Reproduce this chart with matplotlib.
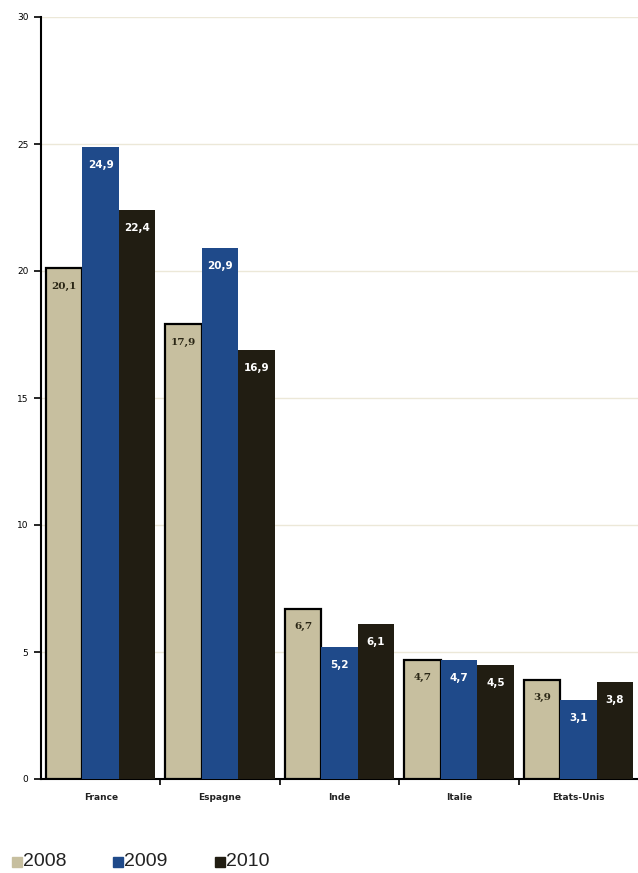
import numpy as np
import matplotlib.pyplot as plt
from matplotlib.patches import Rectangle

# Données : parts par pays et par année
pays = ["France", "Espagne", "Inde", "Italie", "Etats-Unis"]
annees = ["2008", "2009", "2010"]
v2008 = [20.1, 17.9, 6.7, 4.7, 3.9]
v2009 = [24.9, 20.9, 5.2, 4.7, 3.1]
v2010 = [22.4, 16.9, 6.1, 4.5, 3.8]

couleurs = ["#c7bf9f", "#1f4a8a", "#211d12"]
couleurs_txt = ["#2a2615", "white", "white"]

fig = plt.figure(figsize=(6.38, 8.73), dpi=100)
ax = fig.add_axes([41 / 638, 1 - 779 / 873, 1 - 41 / 638, (779 - 17) / 873])

x = np.arange(len(pays))
largeur = 0.305
series = [v2008, v2009, v2010]
for i, (vals, c, ct) in enumerate(zip(series, couleurs, couleurs_txt)):
    pos = x + (i - 1) * largeur
    ax.bar(pos, vals, width=largeur, color=c, edgecolor="black" if i == 0 else c,
           linewidth=1.6 if i == 0 else 0, zorder=3)
    fam = "DejaVu Serif" if i == 0 else "DejaVu Sans"
    for xp, v in zip(pos, vals):
        ax.annotate(f"{v:.1f}".replace(".", ","), (xp, v), xytext=(0, -18),
                    textcoords="offset pixels", ha="center", va="center",
                    fontsize=7.5, fontweight="bold", family=fam, color=ct, zorder=4)

ax.set_xlim(-0.5, 4.5)
ax.set_ylim(0, 30)
ax.set_yticks(np.arange(0, 31, 5))
ax.yaxis.grid(True, color="#ece8d8", linewidth=1, zorder=0)
ax.set_axisbelow(True)

ax.set_xticks(x)
ax.set_xticklabels(pays, fontsize=6.5, fontweight="bold", color="#222222")
ax.tick_params(axis="x", length=0, pad=10)
ax.set_xticks(np.arange(0.5, 4.5, 1), minor=True)
ax.tick_params(axis="x", which="minor", length=4, width=1.2, direction="out")
ax.tick_params(axis="y", length=5, width=1.2, labelsize=6.5, pad=4)

for s in ["top", "right"]:
    ax.spines[s].set_visible(False)
for s in ["left", "bottom"]:
    ax.spines[s].set_linewidth(1.5)

# Légende en bas de figure
lx = [12, 113, 215]
for a, c, px in zip(annees, couleurs, lx):
    fig.patches.append(Rectangle((px / 638, 1 - 867 / 873), 10 / 638, 10 / 873,
                                 transform=fig.transFigure, color=c, figure=fig))
    fig.text((px + 11) / 638, 1 - 862 / 873, a, fontsize=14, family="Liberation Sans",
             va="center", ha="left", color="#222222")

fig.savefig("out.png", dpi=100)
